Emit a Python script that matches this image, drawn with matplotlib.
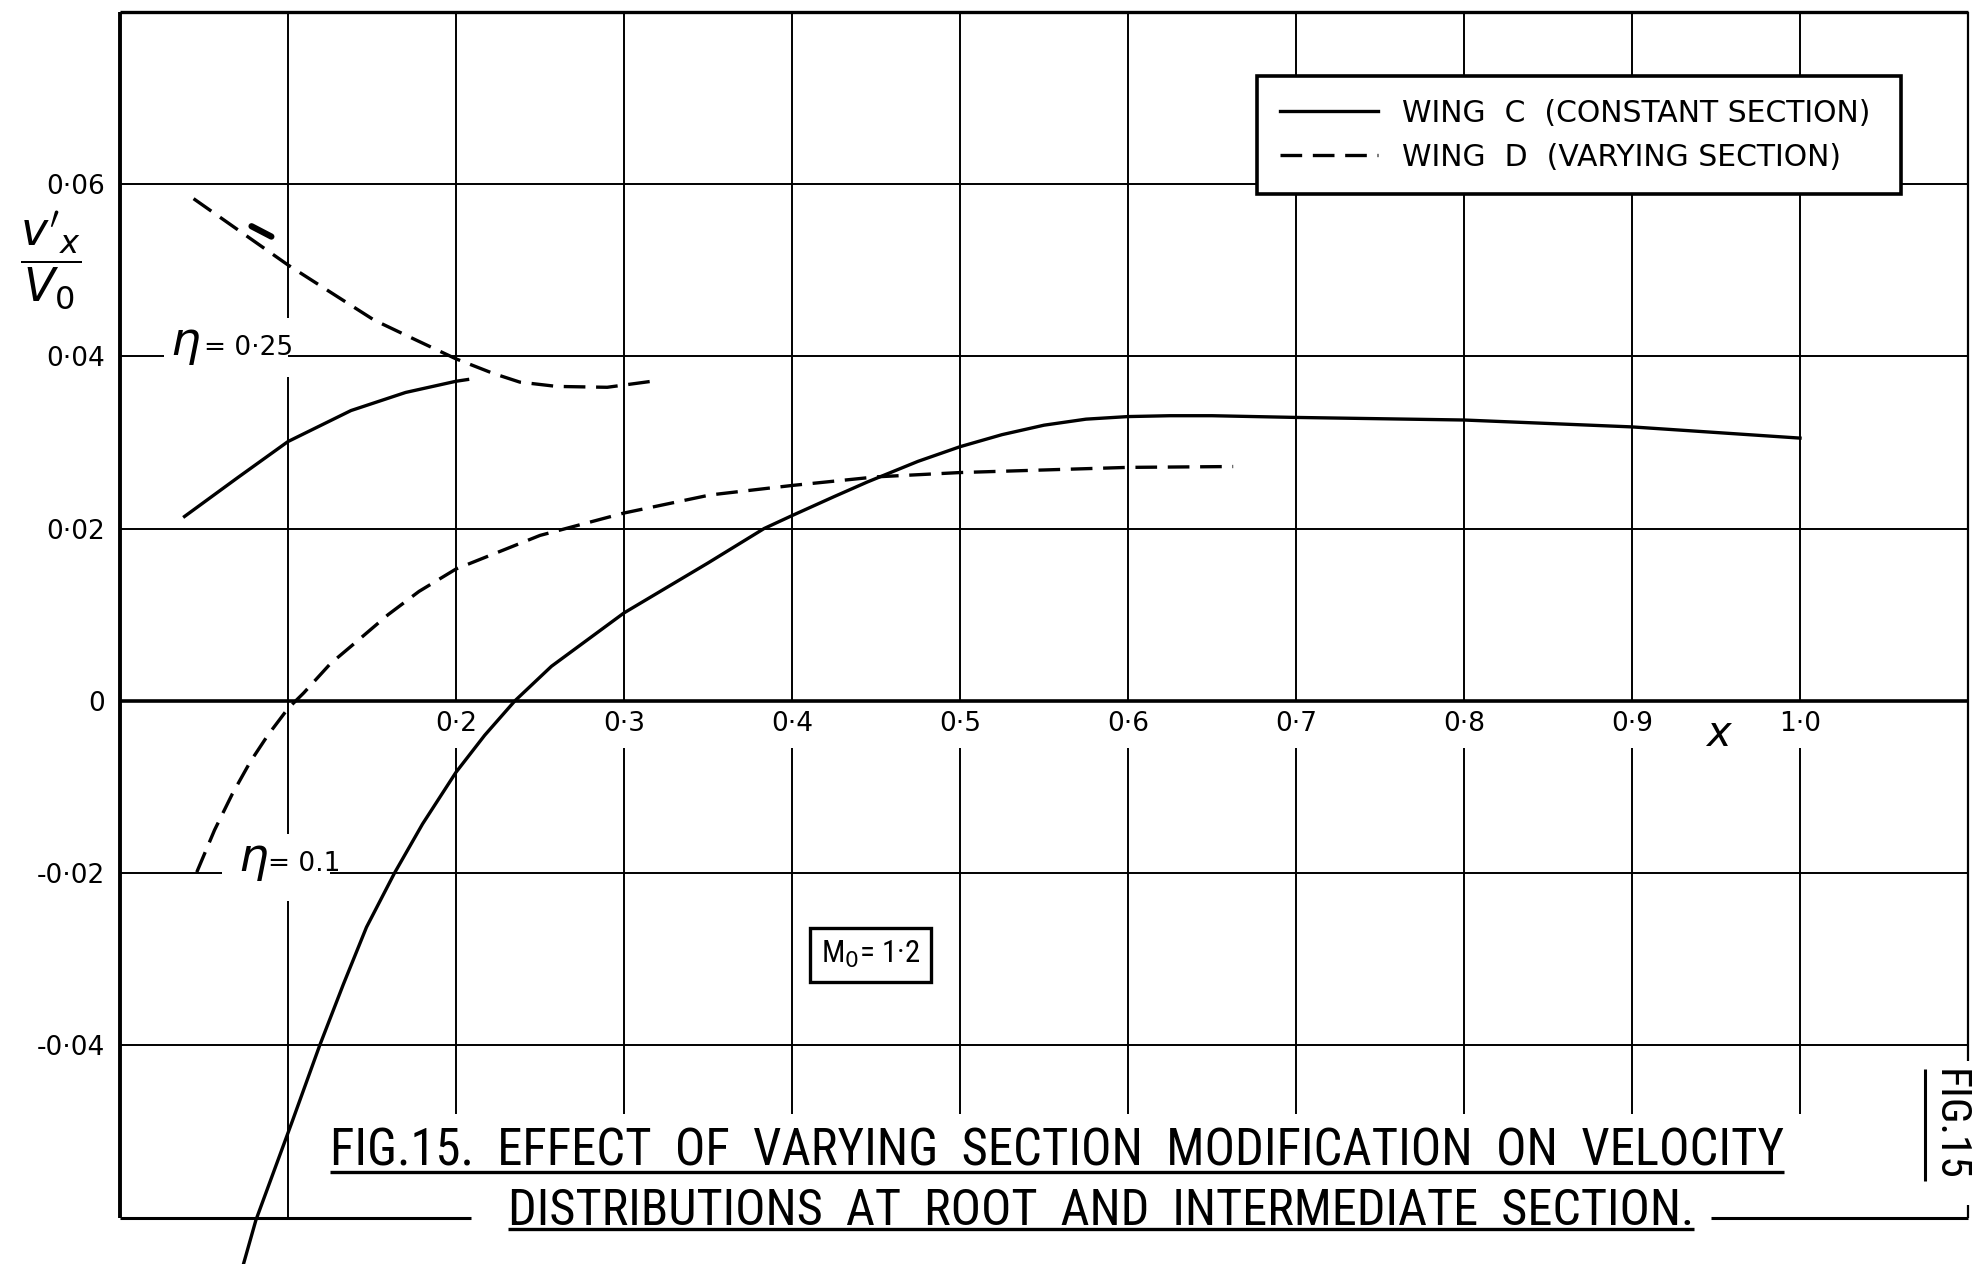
import matplotlib.pyplot as plt
from matplotlib import font_manager

# ---- values (x, v'x/V0) ----
# wing C (constant section), root section eta = 0.1
c_root_x = [0.0735, 0.0809, 0.1026, 0.1189, 0.133, 0.1467, 0.1634, 0.1801, 0.2, 0.2171,
            0.2351, 0.2568, 0.2784, 0.30, 0.35, 0.3834, 0.40, 0.425, 0.4448, 0.475, 0.50,
            0.525, 0.55, 0.575, 0.60, 0.625, 0.65, 0.70, 0.80, 0.90, 1.00]
c_root_y = [-0.0654, -0.0603, -0.0488, -0.0400, -0.0329, -0.0263, -0.0200, -0.0143, -0.0083, -0.0040,
            0.0, 0.0040, 0.0071, 0.0102, 0.0160, 0.0200, 0.0215, 0.0237, 0.0254, 0.0278, 0.0295,
            0.0309, 0.0320, 0.0327, 0.0330, 0.0331, 0.0331, 0.0329, 0.0326, 0.0318, 0.0305]

# wing D (varying section), root section eta = 0.1
d_root_x = [0.0457, 0.0563, 0.0669, 0.0775, 0.088, 0.1, 0.1093, 0.1252, 0.141, 0.1596,
            0.178, 0.2, 0.25, 0.30, 0.3513, 0.40, 0.4502, 0.50, 0.60, 0.6626]
d_root_y = [-0.0199, -0.0150, -0.0108, -0.0071, -0.0040, -0.0009, 0.0009, 0.0043, 0.0069, 0.0100,
            0.0127, 0.0153, 0.0192, 0.0218, 0.0239, 0.0250, 0.0260, 0.0265, 0.0271, 0.0272]

# wing C, intermediate section eta = 0.25
c_mid_x = [0.0384, 0.07, 0.1, 0.1375, 0.17, 0.2, 0.2069]
c_mid_y = [0.0214, 0.0259, 0.0301, 0.0337, 0.0358, 0.0371, 0.0373]

# wing D, intermediate section eta = 0.25
d_mid_x = [0.0438, 0.1, 0.1296, 0.1513, 0.175, 0.2, 0.2223, 0.238, 0.26, 0.29, 0.3166]
d_mid_y = [0.0583, 0.0506, 0.0469, 0.0442, 0.0420, 0.0397, 0.0380, 0.0370, 0.0365, 0.0364, 0.0371]

# small stray stroke near the eta = 0.25 dashed curve
stray_x = [0.0783, 0.0901]
stray_y = [0.0551, 0.0539]

grid_x = [0.1, 0.2, 0.3, 0.4, 0.5, 0.6, 0.7, 0.8, 0.9, 1.0]
grid_y = [0.06, 0.04, 0.02, -0.02, -0.04]
xtick_vals = [0.2, 0.3, 0.4, 0.5, 0.6, 0.7, 0.8, 0.9, 1.0]
xtick_text = ['0·2', '0·3', '0·4', '0·5', '0·6', '0·7', '0·8', '0·9', '1·0']
ytick_vals = [0.06, 0.04, 0.02, 0.0, -0.02, -0.04]
ytick_text = ['0·06', '0·04', '0·02', '0', '-0·02', '-0·04']

legend_text = ['WING  C  (CONSTANT SECTION)', 'WING  D  (VARYING SECTION)']
title_1 = 'FIG.15.  EFFECT  OF  VARYING  SECTION  MODIFICATION  ON  VELOCITY'
title_2 = 'DISTRIBUTIONS  AT  ROOT  AND  INTERMEDIATE  SECTION.'

# pick a narrow lettering face if one is installed
names = {f.name for f in font_manager.fontManager.ttflist}
narrow, stretch = None, 'normal'
for cand in ['Liberation Sans Narrow', 'Roboto Condensed', 'Open Sans Condensed',
             'Noto Sans Condensed', 'DejaVu Sans Condensed']:
    if cand in names:
        narrow = cand
        break
if narrow is None:
    cond = [f for f in font_manager.fontManager.ttflist
            if f.name == 'DejaVu Sans' and f.stretch == 'condensed']
    if cond:
        narrow, stretch = 'DejaVu Sans', 'condensed'
    elif 'Roboto' in names:
        narrow = 'Roboto'
    else:
        narrow = 'DejaVu Sans'
letter = dict(family=[narrow, 'DejaVu Sans'], fontstretch=stretch)

plt.rcParams.update({
    'font.family': ['DejaVu Sans'],
    'font.size': 19,
    'mathtext.fontset': 'dejavusans',
})

W, H, DPI = 1976, 1264, 100
fig = plt.figure(figsize=(W / DPI, H / DPI), dpi=DPI)
ax = fig.add_axes([120 / W, 46.5 / H, 1848 / W, 1205.7 / H])
ax.set_xlim(0, 1.1)
ax.set_ylim(-0.06, 0.08)
for s in ax.spines.values():
    s.set_visible(False)
ax.set_xticks([])
ax.set_yticks(ytick_vals, ytick_text)
ax.tick_params(axis='y', length=0, pad=11, labelsize=19)

k = dict(color='black', solid_capstyle='butt', clip_on=False)


def broken_v(x, y0, y1, gaps, lw):
    pts = [y0]
    for g in sorted(gaps):
        pts += list(g)
    pts.append(y1)
    for a, b in zip(pts[::2], pts[1::2]):
        ax.plot([x, x], [a, b], lw=lw, zorder=1, **k)


def broken_h(y, x0, x1, gaps, lw):
    pts = [x0]
    for g in sorted(gaps):
        pts += list(g)
    pts.append(x1)
    for a, b in zip(pts[::2], pts[1::2]):
        ax.plot([a, b], [y, y], lw=lw, zorder=1, **k)


# grid
for gx in grid_x:
    if gx == 0.1:
        broken_v(gx, -0.06, 0.08, [(-0.0232, -0.0155), (0.0376, 0.0445)], 1.4)
    else:
        broken_v(gx, -0.048, 0.08, [(-0.0055, 0.0)], 1.4)
for gy in grid_y:
    gaps = []
    if gy == 0.04:
        gaps = [(0.026, 0.1)]
    if gy == -0.02:
        gaps = [(0.061, 0.125)]
    broken_h(gy, 0, 1.1, gaps, 1.4)
ax.plot([0, 1.1], [0, 0], lw=2.6, zorder=1, **k)

# frame
ax.plot([0, 0], [-0.06, 0.08], lw=2.8, zorder=2, **k)
ax.plot([0, 1.1], [0.08, 0.08], lw=2.4, zorder=2, **k)
broken_v(1.1, -0.06, 0.08, [(-0.0585, -0.0418)], 1.6)
broken_h(-0.06, 0, 1.1, [(0.209, 0.947)], 2.2)

# curves
lw = 2.4
dash = (6.5, 3.2)
line_c, = ax.plot(c_root_x, c_root_y, lw=lw, color='black', zorder=3, clip_on=False)
ax.plot(c_mid_x, c_mid_y, lw=lw, color='black', zorder=3)
line_d, = ax.plot(d_root_x, d_root_y, lw=lw, color='black', dashes=dash, zorder=3)
ax.plot(d_mid_x, d_mid_y, lw=lw, color='black', dashes=dash, zorder=3)
ax.plot(stray_x, stray_y, lw=4.5, color='black', solid_capstyle='round', zorder=3)

# x tick labels sitting under the zero line
for xv, xt in zip(xtick_vals, xtick_text):
    ax.text(xv, -0.0027, xt, ha='center', va='center', fontsize=19)
ax.text(0.952, -0.0039, r'$x$', ha='center', va='center', fontsize=30)

# y label as a fraction
ax.text(-0.041, 0.0512, r"$\dfrac{v'_{x}}{V_{0}}$", ha='center', va='center',
        fontsize=33, clip_on=False)

# section labels
ax.text(0.0298, 0.0401, r'$\eta$', ha='left', va='baseline', fontsize=34)
ax.text(0.050, 0.0401, '= 0·25', ha='left', va='baseline', fontsize=19)
ax.text(0.070, -0.0198, r'$\eta$', ha='left', va='baseline', fontsize=34)
ax.text(0.088, -0.0198, '= 0.1', ha='left', va='baseline', fontsize=19)

# Mach number box
tm = ax.text(0.4466, -0.0295, r'M$_0$= 1·2', ha='center', va='center', fontsize=28,
             bbox=dict(boxstyle='square,pad=0.36', facecolor='white', edgecolor='black',
                       linewidth=2.4), **letter)

# legend
leg = ax.legend([line_c, line_d], legend_text, loc='upper left',
                bbox_to_anchor=(0.6155, 0.8464, 0.348, 0.10), mode='expand',
                borderaxespad=0, fancybox=False, framealpha=1, edgecolor='black',
                handlelength=3.3, handletextpad=0.8, borderpad=0.75, labelspacing=0.5,
                fontsize=21.5)
leg.get_frame().set_linewidth(2.6)
leg.set_zorder(10)

# caption inside the frame
t1 = ax.text(0.125, -0.0540, title_1, ha='left', va='baseline', fontsize=34, **letter)
t2 = ax.text(0.231, -0.0609, title_2, ha='left', va='baseline', fontsize=34,
             clip_on=False, **letter)
t3 = ax.text(1.0887, -0.0493, 'FIG.15', ha='center', va='center', rotation=-90,
             fontsize=27, clip_on=False, **letter)

# scale the lettering so it spans what the original spans
fig.canvas.draw()
r = fig.canvas.get_renderer()
for t, span, use_h in [(t1, 1456, False), (t2, 1191, False), (t3, 112, True), (tm, 99, False)]:
    bb = t.get_window_extent(r)
    size = bb.height if use_h else bb.width
    t.set_fontsize(t.get_fontsize() * span / size)

fig.canvas.draw()
inv = ax.transData.inverted()
for t, uy in [(t1, -0.0547), (t2, -0.0613)]:
    bb = t.get_window_extent(r)
    (xa, _), (xb, _) = inv.transform([[bb.x0, bb.y0], [bb.x1, bb.y1]])
    ax.plot([xa, xb], [uy, uy], lw=2.4, zorder=2, **k)
bb = t3.get_window_extent(r)
(_, ya), (_, yb) = inv.transform([[bb.x0, bb.y0], [bb.x1, bb.y1]])
ax.plot([1.0744, 1.0744], [ya, yb], lw=2.2, zorder=2, **k)

fig.savefig('out.png', dpi=DPI)
